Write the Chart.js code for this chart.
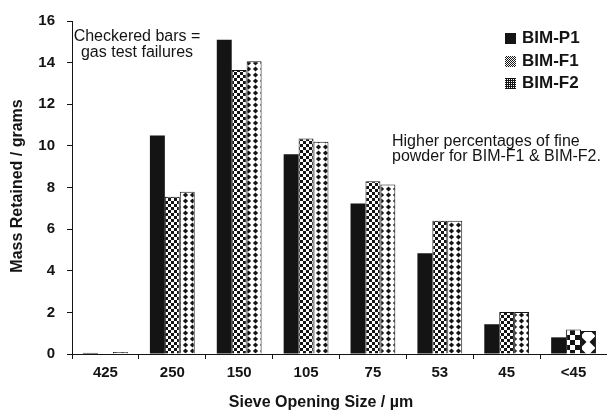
<!DOCTYPE html>
<html>
<head>
<meta charset="utf-8">
<script src="https://cdn.jsdelivr.net/npm/chart.js@4.4.1/dist/chart.umd.min.js"></script>
<style>
  html, body { margin: 0; background: #fff; }
  #wrap { width: 607px; height: 411px; }
</style>
</head>
<body>
<div id="wrap"><canvas id="chart"></canvas></div>
<script>
// --- Data ---
const sieveSizes = ["425", "250", "150", "105", "75", "53", "45", "<45"];
const bimP1 = [0.05, 10.5, 15.1, 9.6, 7.23, 4.84, 1.43, 0.8];
const bimF1 = [0.03, 7.55, 13.65, 10.35, 8.3, 6.4, 2.02, 1.18];
const bimF2 = [0.1, 7.8, 14.07, 10.2, 8.15, 6.4, 2.02, 1.1];
const seriesNames = ["BIM-P1", "BIM-F1", "BIM-F2"];
const noteLeft = ["Checkered bars =", "gas test failures"];
const noteRight = ["Higher percentages of fine", "powder for BIM-F1 & BIM-F2."];

const FONT = "'Liberation Sans', Arial, Helvetica, sans-serif";
const INK = "#141414";

const canvas = document.getElementById("chart");
const ctx0 = canvas.getContext("2d");

function makePattern(w, h, draw) {
  const c = document.createElement("canvas");
  c.width = w; c.height = h;
  const g = c.getContext("2d");
  g.fillStyle = "#fff";
  g.fillRect(0, 0, w, h);
  g.fillStyle = INK;
  draw(g, w, h);
  return ctx0.createPattern(c, "repeat");
}
const checker = (s) => makePattern(2 * s, 2 * s, (g) => {
  g.fillRect(0, 0, s, s);
  g.fillRect(s, s, s, s);
});
const diamonds = (w, h, rx, ry) => makePattern(w, h, (g) => {
  g.beginPath();
  g.moveTo(w / 2, h / 2 - ry);
  g.lineTo(w / 2 + rx, h / 2);
  g.lineTo(w / 2, h / 2 + ry);
  g.lineTo(w / 2 - rx, h / 2);
  g.closePath();
  g.fill();
});

const f1Small = checker(3), f1Big = checker(5);
const f2Small = diamonds(7, 6, 2.6, 2.6), f2Big = diamonds(14, 12, 5.5, 5.5);
const swatchF1 = checker(1);
const swatchF2 = makePattern(2, 2, (g) => { g.fillRect(0, 0, 2, 1); g.fillRect(0, 0, 1, 2); });

// annotations, axis titles and the in-plot legend
const overlay = {
  id: "overlay",
  afterDraw(chart) {
    const c = chart.ctx;
    c.save();
    c.fillStyle = INK;
    c.textBaseline = "alphabetic";

    c.font = `16px ${FONT}`;
    c.textAlign = "center";
    c.fillText(noteLeft[0], 137, 41);
    c.fillText(noteLeft[1], 137, 57);
    c.textAlign = "left";
    c.fillText(noteRight[0], 392, 146);
    c.fillText(noteRight[1], 392, 161);

    c.font = `bold 16px ${FONT}`;
    c.textAlign = "center";
    c.fillText("Sieve Opening Size / µm", 321, 407);
    c.save();
    c.translate(21.5, 186);
    c.rotate(-Math.PI / 2);
    c.fillText("Mass Retained / grams", 0, 0);
    c.restore();

    const fills = [INK, swatchF1, swatchF2];
    const baselines = [43, 66, 88];
    c.font = `bold 17px ${FONT}`;
    c.textAlign = "left";
    seriesNames.forEach((name, i) => {
      c.fillStyle = fills[i];
      c.fillRect(505, baselines[i] - 10, 11, 11);
      c.fillStyle = INK;
      c.fillText(name, 522, baselines[i]);
    });
    c.restore();
  },
};

new Chart(canvas, {
  type: "bar",
  data: {
    labels: sieveSizes,
    datasets: [
      { label: seriesNames[0], data: bimP1, backgroundColor: INK, borderWidth: 0 },
      { label: seriesNames[1], data: bimF1,
        backgroundColor: (c) => (c.dataIndex === 7 ? f1Big : f1Small),
        borderColor: INK, borderWidth: 1 },
      { label: seriesNames[2], data: bimF2,
        backgroundColor: (c) => (c.dataIndex === 7 ? f2Big : f2Small),
        borderColor: INK, borderWidth: 1 },
    ],
  },
  options: {
    responsive: true,
    maintainAspectRatio: false,
    animation: false,
    layout: { padding: { top: 19, right: 0, left: 0, bottom: 0 } },
    plugins: { legend: { display: false }, tooltip: { enabled: false } },
    datasets: { bar: { categoryPercentage: 0.67, barPercentage: 1 } },
    scales: {
      x: {
        grid: { offset: true, drawOnChartArea: false, tickLength: 5, color: INK },
        border: { color: INK, width: 1 },
        ticks: { color: INK, font: { family: FONT, size: 15, weight: "bold" }, padding: 5, maxRotation: 0 },
        afterFit: (s) => { s.height = 57; },
      },
      y: {
        min: 0, max: 16,
        grid: { drawOnChartArea: false, tickLength: 5, color: INK },
        border: { color: INK, width: 1 },
        ticks: { stepSize: 2, color: INK, font: { family: FONT, size: 15, weight: "bold" }, padding: 12 },
        afterFit: (s) => { s.width = 72; },
      },
    },
  },
  plugins: [overlay],
});
</script>
</body>
</html>
